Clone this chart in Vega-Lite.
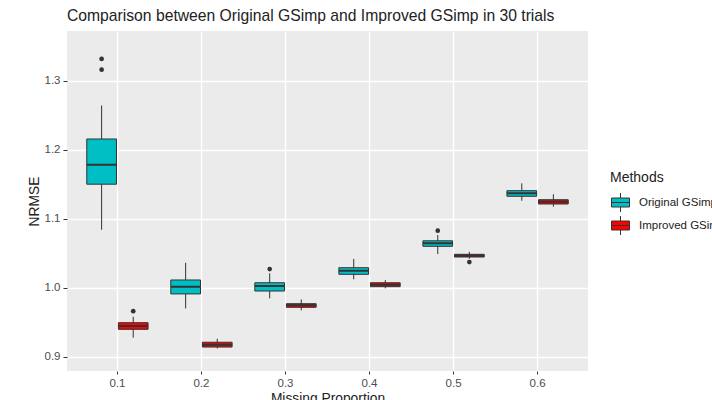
{
  "$schema": "https://vega.github.io/schema/vega-lite/v6.json",
  "width": 521,
  "height": 340,
  "autosize": {"type": "none"},
  "padding": {"left": 67, "top": 31, "right": 124, "bottom": 29},
  "background": "white",
  "title": {
    "text": "Comparison between Original GSimp and Improved GSimp in 30 trials",
    "anchor": "start",
    "frame": "group",
    "font": "Liberation Sans",
    "fontSize": 15.7,
    "fontWeight": "normal",
    "color": "#222222",
    "offset": 6
  },
  "datasets": {
    "boxes": [
      {"prop": "0.1", "method": "Original GSimp", "lower": 1.084, "q1": 1.150, "median": 1.178, "q3": 1.2155, "upper": 1.264},
      {"prop": "0.1", "method": "Improved GSimp", "lower": 0.9275, "q1": 0.9397, "median": 0.9445, "q3": 0.9493, "upper": 0.958},
      {"prop": "0.2", "method": "Original GSimp", "lower": 0.970, "q1": 0.991, "median": 1.0015, "q3": 1.0112, "upper": 1.0362},
      {"prop": "0.2", "method": "Improved GSimp", "lower": 0.912, "q1": 0.914, "median": 0.9175, "q3": 0.921, "upper": 0.926},
      {"prop": "0.3", "method": "Original GSimp", "lower": 0.9846, "q1": 0.9952, "median": 1.0025, "q3": 1.0072, "upper": 1.0209},
      {"prop": "0.3", "method": "Improved GSimp", "lower": 0.967, "q1": 0.9716, "median": 0.9745, "q3": 0.9768, "upper": 0.983},
      {"prop": "0.4", "method": "Original GSimp", "lower": 1.0122, "q1": 1.0194, "median": 1.0246, "q3": 1.029, "upper": 1.0416},
      {"prop": "0.4", "method": "Improved GSimp", "lower": 0.999, "q1": 1.0015, "median": 1.0043, "q3": 1.0072, "upper": 1.011},
      {"prop": "0.5", "method": "Original GSimp", "lower": 1.0488, "q1": 1.060, "median": 1.0643, "q3": 1.068, "upper": 1.0764},
      {"prop": "0.5", "method": "Improved GSimp", "lower": 1.042, "q1": 1.0445, "median": 1.0464, "q3": 1.0484, "upper": 1.052},
      {"prop": "0.6", "method": "Original GSimp", "lower": 1.126, "q1": 1.1325, "median": 1.1368, "q3": 1.1406, "upper": 1.1513},
      {"prop": "0.6", "method": "Improved GSimp", "lower": 1.1174, "q1": 1.1213, "median": 1.1246, "q3": 1.1275, "upper": 1.1354}
    ],
    "outliers": [
      {"prop": "0.1", "method": "Original GSimp", "value": 1.3315},
      {"prop": "0.1", "method": "Original GSimp", "value": 1.316},
      {"prop": "0.1", "method": "Improved GSimp", "value": 0.966},
      {"prop": "0.3", "method": "Original GSimp", "value": 1.027},
      {"prop": "0.5", "method": "Original GSimp", "value": 1.0826},
      {"prop": "0.5", "method": "Improved GSimp", "value": 1.0372}
    ]
  },
  "config": {
    "view": {"fill": "#EBEBEB", "stroke": null},
    "axis": {
      "domain": false,
      "tickColor": "#333333",
      "labelColor": "#4D4D4D",
      "labelFont": "Liberation Sans",
      "labelFontSize": 11.5,
      "titleFont": "Liberation Sans",
      "titleFontSize": 13.8,
      "titleFontWeight": "normal",
      "titleColor": "#222222",
      "gridColor": "#FFFFFF"
    },
    "legend": {
      "titleFont": "Liberation Sans",
      "labelFont": "Liberation Sans"
    }
  },
  "encoding": {
    "x": {
      "field": "prop",
      "type": "nominal",
      "sort": ["0.1", "0.2", "0.3", "0.4", "0.5", "0.6"],
      "scale": {"type": "band", "paddingInner": 0, "paddingOuter": 0.1},
      "axis": {
        "title": "Missing Proportion",
        "bandPosition": 0.5,
        "grid": true,
        "gridWidth": 1.4,
        "labelAngle": 0,
        "tickSize": 3,
        "labelPadding": 3,
        "titlePadding": 3
      }
    },
    "xOffset": {
      "field": "method",
      "type": "nominal",
      "scale": {"domain": ["Original GSimp", "Improved GSimp"], "paddingInner": 0.06, "paddingOuter": 0.36}
    }
  },
  "layer": [
    {
      "data": {"name": "boxes"},
      "mark": {"type": "rule", "color": "#333333", "strokeWidth": 1},
      "encoding": {
        "y": {
          "field": "lower",
          "type": "quantitative",
          "scale": {"domain": [0.8793, 1.372], "nice": false, "zero": false},
          "axis": {
            "title": "NRMSE",
            "values": [0.9, 0.95, 1.0, 1.05, 1.1, 1.15, 1.2, 1.25, 1.3, 1.35],
            "labelExpr": "abs(datum.value*10 - round(datum.value*10)) < 0.01 ? format(datum.value, '.1f') : ''",
            "gridWidth": {"condition": {"test": "abs(datum.value*10 - round(datum.value*10)) < 0.01", "value": 1.4}, "value": 0.7},
            "tickOpacity": {"condition": {"test": "abs(datum.value*10 - round(datum.value*10)) < 0.01", "value": 1}, "value": 0},
            "tickSize": 4,
            "labelPadding": 3,
            "titlePadding": 3
          }
        },
        "y2": {"field": "upper"}
      }
    },
    {
      "data": {"name": "boxes"},
      "mark": {"type": "bar", "stroke": "#333333", "strokeWidth": 1, "opacity": 1},
      "encoding": {
        "y": {"field": "q1", "type": "quantitative"},
        "y2": {"field": "q3"},
        "fill": {
          "field": "method",
          "type": "nominal",
          "scale": {"domain": ["Original GSimp", "Improved GSimp"], "range": ["#00BFC4", "#FF0000"]},
          "legend": {
            "title": "Methods",
            "orient": "none",
            "legendX": 543,
            "legendY": 140,
            "symbolType": "M-0.9,-0.45H0.9V0.45H-0.9Z M-0.9,0H0.9 M0,-0.45V-0.95 M0,0.45V0.95",
            "symbolSize": 400,
            "symbolStrokeColor": "#333333",
            "symbolStrokeWidth": 1,
            "symbolOpacity": 1,
            "titleFontSize": 14,
            "titleFontWeight": "normal",
            "titleColor": "#222222",
            "labelFontSize": 11.5,
            "labelColor": "#222222",
            "rowPadding": 0,
            "titlePadding": 7,
            "labelOffset": 8
          }
        }
      }
    },
    {
      "data": {"name": "boxes"},
      "mark": {"type": "bar", "fill": "transparent", "stroke": "#333333", "strokeWidth": 2},
      "encoding": {
        "y": {"field": "median", "type": "quantitative"},
        "y2": {"field": "median"}
      }
    },
    {
      "data": {"name": "outliers"},
      "mark": {"type": "point", "filled": true, "color": "#333333", "size": 22, "opacity": 1},
      "encoding": {
        "y": {"field": "value", "type": "quantitative"}
      }
    }
  ]
}
